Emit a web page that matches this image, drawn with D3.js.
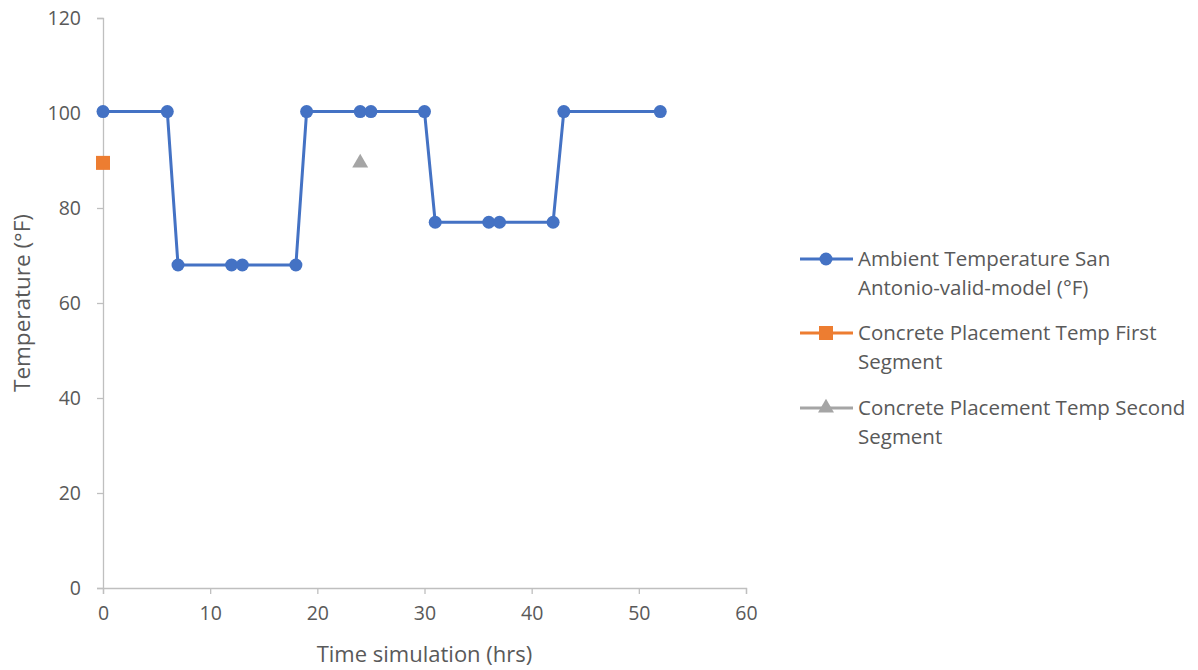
<!DOCTYPE html>
<html><head><meta charset="utf-8">
<script src="https://cdn.jsdelivr.net/npm/d3@7"></script>
<style>body{margin:0;background:#fff}svg{display:block}text{font-family:"Open Sans","Noto Sans",sans-serif;fill:#595959}</style>
</head><body>
<svg id="c" width="1198" height="670"></svg>
<script>
const ambientX = [0,6,7,12,13,18,19,24,25,30,31,36,37,42,43,52];
const ambientY = [100.3,100.3,68,68,68,68,100.3,100.3,100.3,100.3,77,77,77,77,100.3,100.3];
const firstSegX = [0], firstSegY = [89.5];
const secondSegX = [24], secondSegY = [89.5];
const xTicks = [0,10,20,30,40,50,60];
const yTicks = [0,20,40,60,80,100,120];
const seriesNames = ["Ambient Temperature San|Antonio-valid-model (°F)","Concrete Placement Temp First|Segment","Concrete Placement Temp Second|Segment"];
const colors = ["#4472C4","#ED7D31","#A5A5A5"];

const svg = d3.select("#c");
const L=103,R=746,T=18,B=588;
const x = d3.scaleLinear().domain([0,60]).range([L,R]);
const y = d3.scaleLinear().domain([0,120]).range([B,T]);

const ax = svg.append("g").attr("transform",`translate(0,${B})`).call(d3.axisBottom(x).tickValues(xTicks).tickSize(6).tickPadding(12));
const ay = svg.append("g").attr("transform",`translate(${L},0)`).call(d3.axisLeft(y).tickValues(yTicks).tickSize(6).tickPadding(16));
[ax,ay].forEach(g=>{g.selectAll("path,line").attr("stroke","#bfbfbf").attr("stroke-width",1.3);g.selectAll("text").attr("font-size",19.5).style("font-family","'Open Sans',sans-serif").attr("fill","#595959");});

const amb = ambientX.map((v,i)=>[v,ambientY[i]]);
svg.append("path").datum(amb).attr("fill","none").attr("stroke",colors[0]).attr("stroke-width",3)
  .attr("d",d3.line().x(d=>x(d[0])).y(d=>y(d[1])));
svg.selectAll(".pt").data(amb).enter().append("circle").attr("cx",d=>x(d[0])).attr("cy",d=>y(d[1])).attr("r",6.5).attr("fill",colors[0]);

firstSegX.forEach((v,i)=>svg.append("rect").attr("x",x(v)-7).attr("y",y(firstSegY[i])-7).attr("width",14).attr("height",14).attr("fill",colors[1]));
secondSegX.forEach((v,i)=>svg.append("path").attr("transform",`translate(${x(v)},${y(secondSegY[i])})`).attr("d",d3.symbol(d3.symbolTriangle,110)()).attr("fill",colors[2]));

svg.append("text").attr("x",(L+R)/2).attr("y",662).attr("text-anchor","middle").attr("font-size",22).text("Time simulation (hrs)");
svg.append("text").attr("transform","translate(30,303) rotate(-90)").attr("text-anchor","middle").attr("font-size",22.5).text("Temperature (°F)");

const legY=[259,333,408];
seriesNames.forEach((n,i)=>{
  const g=svg.append("g");
  g.append("line").attr("x1",800).attr("x2",853).attr("y1",legY[i]).attr("y2",legY[i]).attr("stroke",colors[i]).attr("stroke-width",3);
  if(i===0) g.append("circle").attr("cx",826).attr("cy",legY[i]).attr("r",6.5).attr("fill",colors[i]);
  if(i===1) g.append("rect").attr("x",819).attr("y",legY[i]-7).attr("width",14).attr("height",14).attr("fill",colors[i]);
  if(i===2) g.append("path").attr("transform",`translate(826,${legY[i]})`).attr("d",d3.symbol(d3.symbolTriangle,110)()).attr("fill",colors[i]);
  n.split("|").forEach((s,j)=>g.append("text").attr("x",858).attr("y",legY[i]+7+j*29).attr("font-size",20.5).text(s));
});
</script>
</body></html>
